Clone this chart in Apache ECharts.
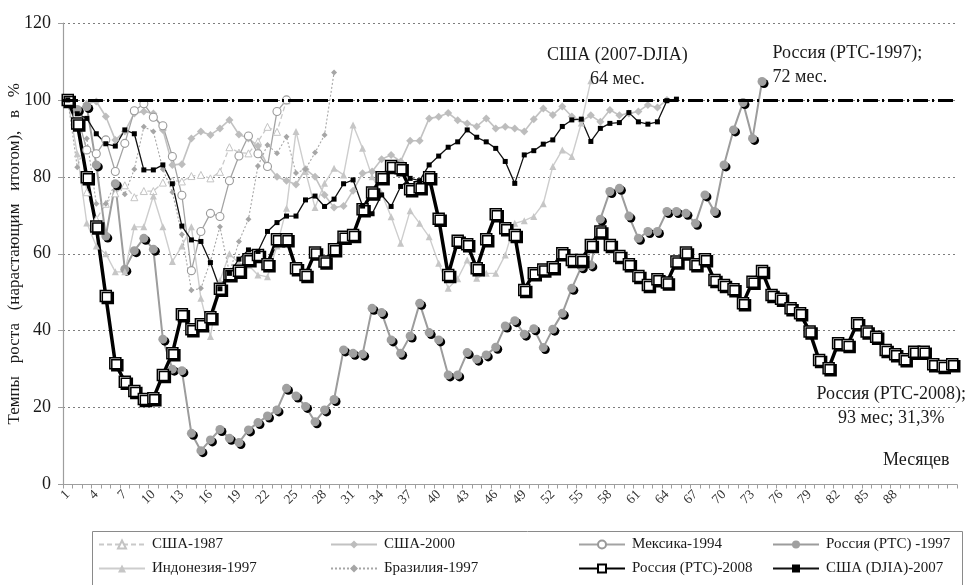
<!DOCTYPE html>
<html>
<head>
<meta charset="utf-8">
<script src="https://cdn.jsdelivr.net/npm/echarts@6/dist/echarts.min.js"></script>
<style>
html,body{margin:0;padding:0;background:#fff;}
#chart{width:968px;height:585px;}
</style>
</head>
<body>
<div id="chart"></div>
<script>
// ---- DATA ----
const months = [1,2,3,4,5,6,7,8,9,10,11,12,13,14,15,16,17,18,19,20,21,22,23,24,25,26,27,28,29,30,
  31,32,33,34,35,36,37,38,39,40,41,42,43,44,45,46,47,48,49,50,51,52,53,54,55,56,57,58,59,60,
  61,62,63,64,65,66,67,68,69,70,71,72,73,74,75,76,77,78,79,80,81,82,83,84,85,86,87,88,89,90,
  91,92,93,94];
const lastLabelledMonth = 90;
const yTicks = [0, 20, 40, 60, 80, 100, 120];
const recoveryLevel = 100;

const seriesNames = ['США-1987','США-2000','Мексика-1994','Россия (РТС) -1997',
  'Индонезия-1997','Бразилия-1997','Россия (РТС)-2008','США (DJIA)-2007'];

const usa1987 = [100,97.5,76,69,73,75.7,77.8,74.7,76.3,76.3,78.5,79,78.8,80.2,80.5,79.6,81.3,87.7,86.3,86.1,89.2,93,91.7,99.9];

const usa2000 = [100,97,99,99.6,95.7,89.6,91.8,96.5,97,96.5,92.2,83.1,83.3,90,91.8,90.9,92.6,94.8,91,90,
  88,83,80,79,78,82,80,75.3,72,72.4,76.4,80.9,81.4,84.6,85.7,84,89.4,89.4,95.2,95.6,
  96.6,94.7,93.9,93.1,95.2,92.6,93,92.6,91.8,95,97.8,96.1,98.3,95.7,94.5,96,94.3,97.4,96,96.5,
  97,98.7,98,100];

const mexico1994 = [100,96,87,86,89.6,81.4,88.7,97.2,99,95.5,93.3,85.3,75.2,55.6,65.8,70.5,69.7,79,85.4,90.6,86,82.7,97,100];

const russia1997 = [100,97.5,98.3,83.1,64.6,78.2,56,60.8,64,61.2,37.8,30,29.6,13.3,8.8,11.6,14.3,12,10.9,14.2,
  16.1,17.8,19.4,25,23,20.3,16.3,19.4,22.1,35,34.1,33.9,45.8,44.7,37.6,34.1,38.6,47.1,39.5,37.6,
  28.5,28.5,34.3,32.6,33.7,35.7,41.2,42.6,39.1,40.5,35.6,40.4,44.5,51,56.6,57.1,69,76.2,77,69.8,
  64,65.8,65.8,71,71,70.5,67.9,75.3,71,83.1,92.2,99.3,90,104.8];

const indonesia1997 = [100,86,68,62,60,55.3,55.3,67,67,75,67,58,62,67,48.4,38.5,53,60,57.5,57,
  54.5,54,62,71.8,91.8,81.4,72,78.3,82.2,80.5,93.5,87.4,80,75.7,69.6,62.7,71.2,67.9,64.4,57.5,
  51,53.5,58.4,53.6,54.9,54.9,59.7,67.9,68.6,69.7,73,82.7,87,85.3,94,105];

const brazil1997 = [100,82.5,90,73,73,78.3,75.5,82,93,91.8,82,76,65,50.5,51,58,67,55,63.2,69,
  82.8,88.3,86.1,90.4,81,82,86.3,90.9,107.1];

const russia2008 = [100,93.9,79.9,67.1,49,31.5,26.7,24.3,22.2,22.4,28.5,34.1,44.3,40.4,41.7,43.5,50.9,54.7,55.6,58.6,
  59.7,57.3,63.8,63.8,56.2,54.5,60.3,58,61.2,64.4,64.9,71.6,75.9,79.9,82.8,82.2,76.8,77.3,79.9,69.1,
  54.5,63.4,62.5,56.2,63.8,70.3,66.6,64.9,50.6,54.9,55.9,56.5,60.1,58.4,58.4,62.3,65.8,62.3,59.4,57.3,
  54.2,51.9,53.4,52.5,58,60.3,57.3,58.6,53.2,51.9,50.8,47.1,52.7,55.5,49.3,48.3,45.8,44.5,39.8,32.4,
  30.2,36.7,36.3,41.9,39.8,38.4,35,33.9,32.6,34.5,34.5,31.3,30.8,31.3];

const djia2007 = [100,96.4,95.2,91.2,88.6,88,92.2,91.2,81.8,81.8,83.1,78.2,67.2,63.6,63.2,57.7,50.9,54.9,58.6,61,
  60.6,65.8,68.1,69.8,69.8,74,75,72.3,74.2,78.2,79.2,72.4,70.4,75.3,72.3,77.5,79.6,79,83.1,85.4,
  87.7,89.1,92.2,90.3,89.1,87.4,84,78.3,85.7,86.8,88.5,89.6,93.1,94.8,95,89.2,92.6,93.9,94.1,96.7,
  94.3,93.7,94.3,99.8,100.2];

// ---- annotation texts ----
const noteDJIA = 'США (2007-DJIA)\n64 мес.';
const noteRus1997 = 'Россия (РТС-1997);\n72 мес.';
const noteRus2008 = 'Россия (РТС-2008);\n93 мес; 31,3%';

// ---- helpers ----
const SERIF = '"Liberation Serif", "DejaVu Serif", serif';
function withEndLabel(values, label) {
  const last = values.length - 1;
  return values.map((v, i) => i === last ? { value: v, label: Object.assign({ show: true }, label) } : v);
}
const noteStyle = { fontFamily: SERIF, fontSize: 18, color: '#1a1a1a', lineHeight: 24 };
const shadow = { shadowColor: '#000', shadowOffsetX: 2, shadowOffsetY: 2, shadowBlur: 0 };

function lineSeries(name, data, opt) {
  return Object.assign({
    name: name, type: 'line', data: data,
    showSymbol: true, showAllSymbol: true,
    animation: false, silent: true,
    emphasis: { disabled: true },
    connectNulls: false
  }, opt);
}

const series = [
  lineSeries(seriesNames[0], usa1987, {
    symbol: 'triangle', symbolSize: 7,
    lineStyle: { color: '#c9c9c9', width: 1.3, type: [5, 3] },
    itemStyle: { color: '#fff', borderColor: '#c4c4c4', borderWidth: 1 },
    markLine: {
      silent: true, symbol: 'none', animation: false,
      label: { show: false },
      lineStyle: { color: '#000', width: 3, type: [15, 4, 2, 4] },
      data: [{ yAxis: recoveryLevel }]
    }
  }),
  lineSeries(seriesNames[1], usa2000, {
    symbol: 'diamond', symbolSize: 8,
    lineStyle: { color: '#c2c2c2', width: 1.6 },
    itemStyle: { color: '#bdbdbd' }
  }),
  lineSeries(seriesNames[2], mexico1994, {
    symbol: 'circle', symbolSize: 8,
    lineStyle: { color: '#a3a3a3', width: 1.3 },
    itemStyle: { color: '#fff', borderColor: '#9a9a9a', borderWidth: 1.1 }
  }),
  lineSeries(seriesNames[3], withEndLabel(russia1997, Object.assign({
      formatter: noteRus1997, position: 'right', distance: 6, offset: [0, -16], align: 'left'
    }, noteStyle)), {
    symbol: 'circle', symbolSize: 9,
    lineStyle: { color: '#9c9c9c', width: 2 },
    itemStyle: Object.assign({ color: '#a0a0a0' }, shadow)
  }),
  lineSeries(seriesNames[4], indonesia1997, {
    symbol: 'triangle', symbolSize: 7,
    lineStyle: { color: '#cdcdcd', width: 1.4 },
    itemStyle: { color: '#c6c6c6' }
  }),
  lineSeries(seriesNames[5], brazil1997, {
    symbol: 'diamond', symbolSize: 6,
    lineStyle: { color: '#a6a6a6', width: 1.1, type: [2, 2] },
    itemStyle: { color: '#a6a6a6' }
  }),
  lineSeries(seriesNames[6], withEndLabel(russia2008, Object.assign({
      formatter: noteRus2008, position: 'bottom', distance: 5, offset: [-61, 7], align: 'center'
    }, noteStyle)), {
    symbol: 'rect', symbolSize: 11,
    lineStyle: { color: '#000', width: 3.5 },
    itemStyle: Object.assign({ color: '#fff', borderColor: '#000', borderWidth: 1.5 }, shadow)
  }),
  lineSeries(seriesNames[7], withEndLabel(djia2007, Object.assign({
      formatter: noteDJIA, position: 'top', distance: 5, offset: [-59, 0], align: 'center'
    }, noteStyle)), {
    symbol: 'rect', symbolSize: 5,
    lineStyle: { color: '#111', width: 1.3 },
    itemStyle: { color: '#000' }
  })
];

// legend: 2 rows x 4 columns inside a framed box
const legendCols = [98, 330, 578, 772];
const legendRows = [537, 561];
const legends = seriesNames.map((n, k) => ({
  data: [n],
  left: legendCols[k % 4],
  top: legendRows[Math.floor(k / 4)],
  orient: 'horizontal',
  padding: 0,
  itemWidth: 46, itemHeight: 10, itemGap: 0,
  selectedMode: false,
  textStyle: { fontFamily: SERIF, fontSize: 15, color: '#1a1a1a', padding: [0, 0, 0, 2] }
}));

const chart = echarts.init(document.getElementById('chart'), null, { renderer: 'canvas' });
chart.setOption({
  animation: false,
  backgroundColor: '#fff',
  grid: { left: 63, right: 11, top: 23, bottom: 100.5, containLabel: false, outerBoundsMode: 'none' },
  xAxis: {
    type: 'category',
    data: months.map(String),
    boundaryGap: true,
    axisLine: { show: true, lineStyle: { color: '#9e9e9e', width: 1.2 } },
    axisTick: { show: true, interval: 0, length: 4, lineStyle: { color: '#9e9e9e' } },
    axisLabel: {
      interval: 2, rotate: 45, margin: 8,
      fontFamily: SERIF, fontSize: 13.5, color: '#333',
      formatter: v => (Number(v) <= lastLabelledMonth ? v : '')
    },
    splitLine: { show: false }
  },
  yAxis: {
    type: 'value',
    min: yTicks[0], max: yTicks[yTicks.length - 1], interval: yTicks[1] - yTicks[0],
    name: 'Темпы   роста   (нарастающим   итогом),   в   %',
    nameLocation: 'middle', nameGap: 40, nameMoveOverlap: false,
    nameTextStyle: { fontFamily: SERIF, fontSize: 17, color: '#1a1a1a' },
    axisLine: { show: true, lineStyle: { color: '#9e9e9e', width: 1.2 } },
    axisTick: { show: true, length: 5, lineStyle: { color: '#9e9e9e' } },
    axisLabel: { fontFamily: SERIF, fontSize: 18, color: '#1a1a1a', margin: 12 },
    splitLine: { show: true, lineStyle: { color: '#7d7d7d', width: 1, type: [2, 3] } }
  },
  legend: legends,
  graphic: [
    { type: 'rect', left: 90, top: 529, silent: true,
      shape: { width: 870, height: 54 },
      style: { fill: 'none', stroke: '#8a8a8a', lineWidth: 1 } },
    { type: 'text', left: 883, top: 451, silent: true,
      style: { text: 'Месяцев', font: '18px ' + SERIF, fill: '#1a1a1a' } }
  ],
  series: series
});
</script>
</body>
</html>
